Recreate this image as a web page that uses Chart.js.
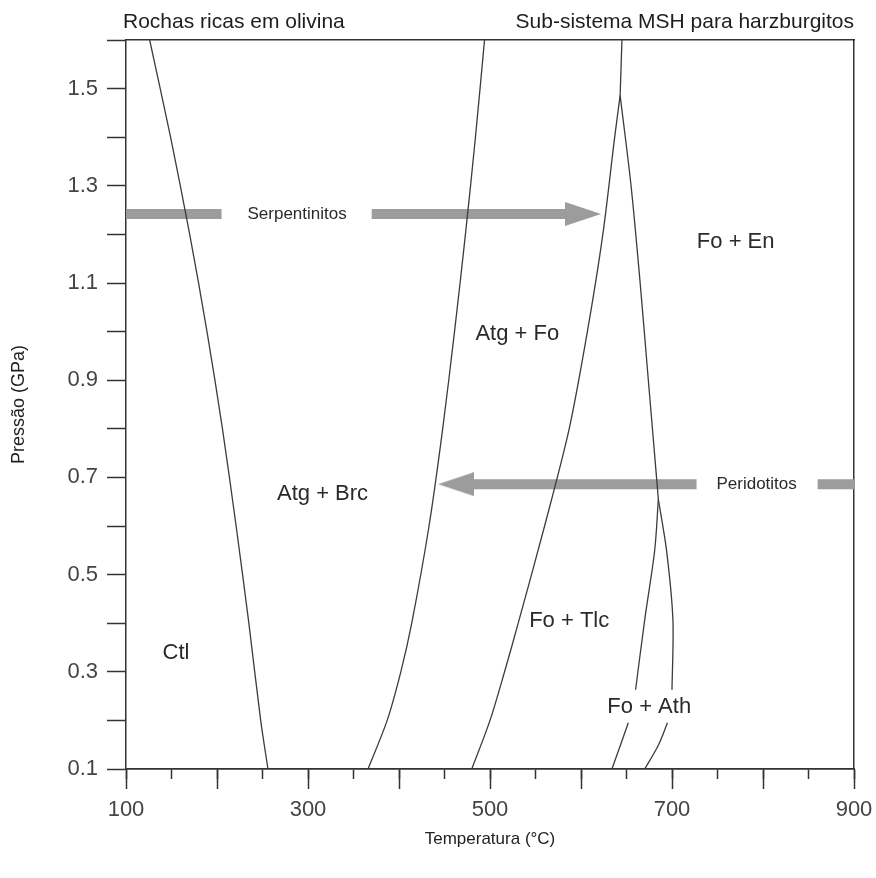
<!DOCTYPE html>
<html>
<head>
<meta charset="utf-8">
<script src="https://cdn.jsdelivr.net/npm/chart.js@4.4.0/dist/chart.umd.min.js"></script>
<style>
  html, body { margin: 0; padding: 0; background: #fff; }
</style>
</head>
<body>
<canvas id="phaseChart" width="876" height="878"></canvas>
<script>
// Phase boundaries, temperature (°C) vs pressure (GPa)
const ctlT = [126, 149, 170, 189, 206, 221, 235, 248, 256];
const ctlP = [1.6, 1.4, 1.2, 1.0, 0.8, 0.6, 0.4, 0.2, 0.1];

const brcT = [366, 387, 402, 414, 433, 448, 461, 473, 484, 494];
const brcP = [0.1, 0.2, 0.3, 0.4, 0.6, 0.8, 1.0, 1.2, 1.4, 1.6];

const atgT = [480, 500, 516, 531, 560, 587, 607, 624, 637, 643];
const atgP = [0.1, 0.2, 0.3, 0.4, 0.6, 0.8, 1.0, 1.2, 1.4, 1.486];

const topT = [643, 645];
const topP = [1.486, 1.6];

const tlcT = [643, 655, 665, 674, 683, 685];
const tlcP = [1.486, 1.3, 1.1, 0.9, 0.7, 0.655];

const athLeftT = [685, 681, 670, 660];
const athLeftP = [0.655, 0.55, 0.407, 0.263];
const athLeftLowT = [652, 634];
const athLeftLowP = [0.195, 0.1];

const athRightT = [685, 694, 701, 700];
const athRightP = [0.655, 0.55, 0.407, 0.263];
const athRightLowT = [695, 685, 670];
const athRightLowP = [0.195, 0.149, 0.1];

// Arrows (serpentinitos -> right, peridotitos -> left)
const serpP = 1.242;
const serpBarT = [100, 205];
const serpBar2T = [370, 605];
const serpTipT = 622;

const peridP = 0.686;
const peridBarT = [470, 727];
const peridBar2T = [860, 900];
const peridTipT = 443;

// Tick labels
const xTickLabels = [100, 300, 500, 700, 900];
const yTickLabels = [0.1, 0.3, 0.5, 0.7, 0.9, 1.1, 1.3, 1.5];

// Field labels
const fieldLabels = [
  { text: 'Ctl', t: 155, p: 0.339 },
  { text: 'Atg + Brc', t: 316, p: 0.665 },
  { text: 'Atg + Fo', t: 530, p: 0.995 },
  { text: 'Fo + En', t: 770, p: 1.185 },
  { text: 'Fo + Tlc', t: 587, p: 0.405 },
  { text: 'Fo + Ath', t: 675, p: 0.228 }
];
const arrowLabels = [
  { text: 'Serpentinitos', t: 288, p: serpP },
  { text: 'Peridotitos', t: 793, p: peridP }
];

const lineColor = '#3c3c3c';
const arrowColor = '#9c9c9c';
const fontFamily = '"Liberation Sans", Arial, Helvetica, sans-serif';

function pts(ts, ps) {
  return ts.map((t, i) => ({ x: t, y: Array.isArray(ps) ? ps[i] : ps }));
}

function curve(ts, ps) {
  return {
    data: pts(ts, ps),
    showLine: true,
    borderColor: lineColor,
    borderWidth: 1.3,
    pointRadius: 0,
    tension: 0.3
  };
}

function bar(ts, p) {
  return {
    data: pts(ts, p),
    showLine: true,
    borderColor: arrowColor,
    borderWidth: 10,
    borderCapStyle: 'butt',
    pointRadius: 0,
    tension: 0
  };
}

// arrow head image with its tip at the centre of the canvas
function makeHead(len, h) {
  const c = document.createElement('canvas');
  c.width = len * 2;
  c.height = h;
  const g = c.getContext('2d');
  g.fillStyle = arrowColor;
  g.beginPath();
  g.moveTo(0, 0);
  g.lineTo(len, h / 2);
  g.lineTo(0, h);
  g.closePath();
  g.fill();
  return c;
}
const headImg = makeHead(36, 24);

function head(t, p, rot) {
  return {
    data: [{ x: t, y: p }],
    showLine: false,
    pointStyle: headImg,
    pointRotation: rot,
    pointRadius: 12
  };
}

const labelPlugin = {
  id: 'labels',
  afterDatasetsDraw(chart) {
    const { ctx, scales: { x, y }, chartArea } = chart;
    ctx.save();
    ctx.fillStyle = '#2a2a2a';
    ctx.textAlign = 'center';
    ctx.textBaseline = 'middle';
    ctx.font = '22px ' + fontFamily;
    fieldLabels.forEach(l => ctx.fillText(l.text, x.getPixelForValue(l.t), y.getPixelForValue(l.p)));
    ctx.font = '17px ' + fontFamily;
    arrowLabels.forEach(l => ctx.fillText(l.text, x.getPixelForValue(l.t), y.getPixelForValue(l.p)));
    ctx.fillStyle = '#1e1e1e';
    ctx.font = '21px ' + fontFamily;
    ctx.textAlign = 'left';
    ctx.fillText('Rochas ricas em olivina', chartArea.left - 3, 22);
    ctx.textAlign = 'right';
    ctx.fillText('Sub-sistema MSH para harzburgitos', chartArea.right, 22);
    ctx.restore();
  }
};

// keep the x scales from asking for extra side room for their end labels
function fitX(h) {
  return s => {
    s.height = h;
    s.paddingLeft = 0;
    s.paddingRight = 0;
  };
}

Chart.defaults.font.family = fontFamily;

new Chart(document.getElementById('phaseChart'), {
  type: 'scatter',
  data: {
    datasets: [
      curve(ctlT, ctlP),
      curve(brcT, brcP),
      curve(atgT, atgP),
      curve(topT, topP),
      curve(tlcT, tlcP),
      curve(athLeftT, athLeftP),
      curve(athLeftLowT, athLeftLowP),
      curve(athRightT, athRightP),
      curve(athRightLowT, athRightLowP),
      bar(serpBarT, serpP),
      bar(serpBar2T, serpP),
      head(serpTipT, serpP, 0),
      bar(peridBarT, peridP),
      bar(peridBar2T, peridP),
      head(peridTipT, peridP, 180)
    ]
  },
  options: {
    responsive: false,
    animation: false,
    events: [],
    layout: { padding: { top: 40, right: 22, left: 0, bottom: 0 } },
    plugins: {
      legend: { display: false },
      tooltip: { enabled: false }
    },
    scales: {
      x: {
        type: 'linear',
        position: 'bottom',
        weight: 1,
        min: 100,
        max: 900,
        ticks: {
          stepSize: 100,
          autoSkip: false,
          maxRotation: 0,
          padding: 8,
          color: '#444',
          font: { size: 22 },
          callback: v => xTickLabels.includes(v) ? String(v) : ''
        },
        grid: { drawOnChartArea: false, tickLength: 20, tickColor: '#333', tickWidth: 1.5 },
        border: { color: '#333', width: 1.5 },
        title: { display: true, text: 'Temperatura (°C)', color: '#222', font: { size: 17 }, padding: { top: 0, bottom: 28 } },
        afterFit: fitX(109)
      },
      xMinor: {
        type: 'linear',
        position: 'bottom',
        weight: 0,
        min: 100,
        max: 900,
        ticks: { stepSize: 50, autoSkip: false, callback: () => '' },
        grid: { drawOnChartArea: false, tickLength: 10, tickColor: '#333', tickWidth: 1.5 },
        border: { color: '#333', width: 1.5 },
        afterFit: fitX(0)
      },
      xTop: {
        type: 'linear',
        position: 'top',
        min: 100,
        max: 900,
        ticks: { display: false },
        grid: { display: false },
        border: { color: '#333', width: 1.5 },
        afterFit: fitX(0)
      },
      y: {
        type: 'linear',
        position: 'left',
        min: 0.1,
        max: 1.6,
        ticks: {
          stepSize: 0.1,
          autoSkip: false,
          padding: 9,
          color: '#444',
          font: { size: 22 },
          callback: v => yTickLabels.includes(Math.round(v * 10) / 10) ? v.toFixed(1) : ''
        },
        grid: { drawOnChartArea: false, tickLength: 19, tickColor: '#333', tickWidth: 1.5 },
        border: { color: '#333', width: 1.5 },
        title: { display: true, text: 'Pressão (GPa)', color: '#222', font: { size: 18 }, padding: { top: 8, bottom: 0 } },
        afterFit: s => { s.width = 126; }
      },
      yRight: {
        type: 'linear',
        position: 'right',
        min: 0.1,
        max: 1.6,
        ticks: { display: false },
        grid: { display: false },
        border: { color: '#333', width: 1.5 },
        afterFit: s => { s.width = 0; }
      }
    }
  },
  plugins: [labelPlugin]
});
</script>
</body>
</html>
